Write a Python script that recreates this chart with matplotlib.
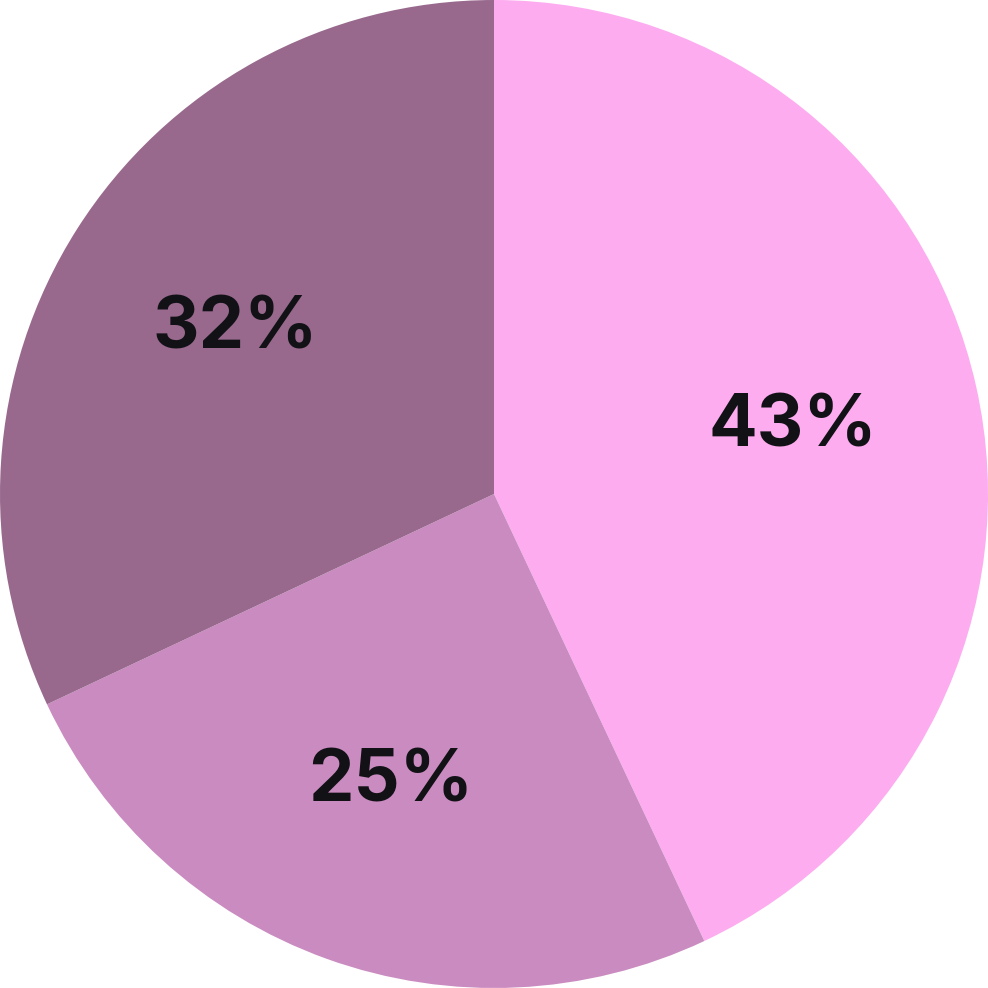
import matplotlib.pyplot as plt

shares = [43, 25, 32]
labels = ['43%', '25%', '32%']
colors = ['#fdacf0', '#ca8bc0', '#98698d']

fig = plt.figure(figsize=(9.88, 9.88), dpi=100)
ax = fig.add_axes([0, 0, 1, 1])

wedges, texts = ax.pie(shares, colors=colors, startangle=90, counterclock=False,
                       radius=1.0, wedgeprops=dict(linewidth=0))

# put the percentage labels by hand at 0.62 of the radius
import numpy as np
total = sum(shares)
start = 90.0
for share, lab in zip(shares, labels):
    mid = start - share / total * 360 / 2
    start -= share / total * 360
    r = 0.62
    ax.text(r * np.cos(np.radians(mid)), r * np.sin(np.radians(mid)), lab,
            ha='center', va='center', fontsize=52, fontweight='bold',
            family=['Inter', 'DejaVu Sans'], color='#111116')

ax.set_xlim(-1.0, 1.0)
ax.set_ylim(-1.0, 1.0)
ax.set_aspect('equal')
ax.axis('off')

fig.savefig('out.png', dpi=100, facecolor='white')
